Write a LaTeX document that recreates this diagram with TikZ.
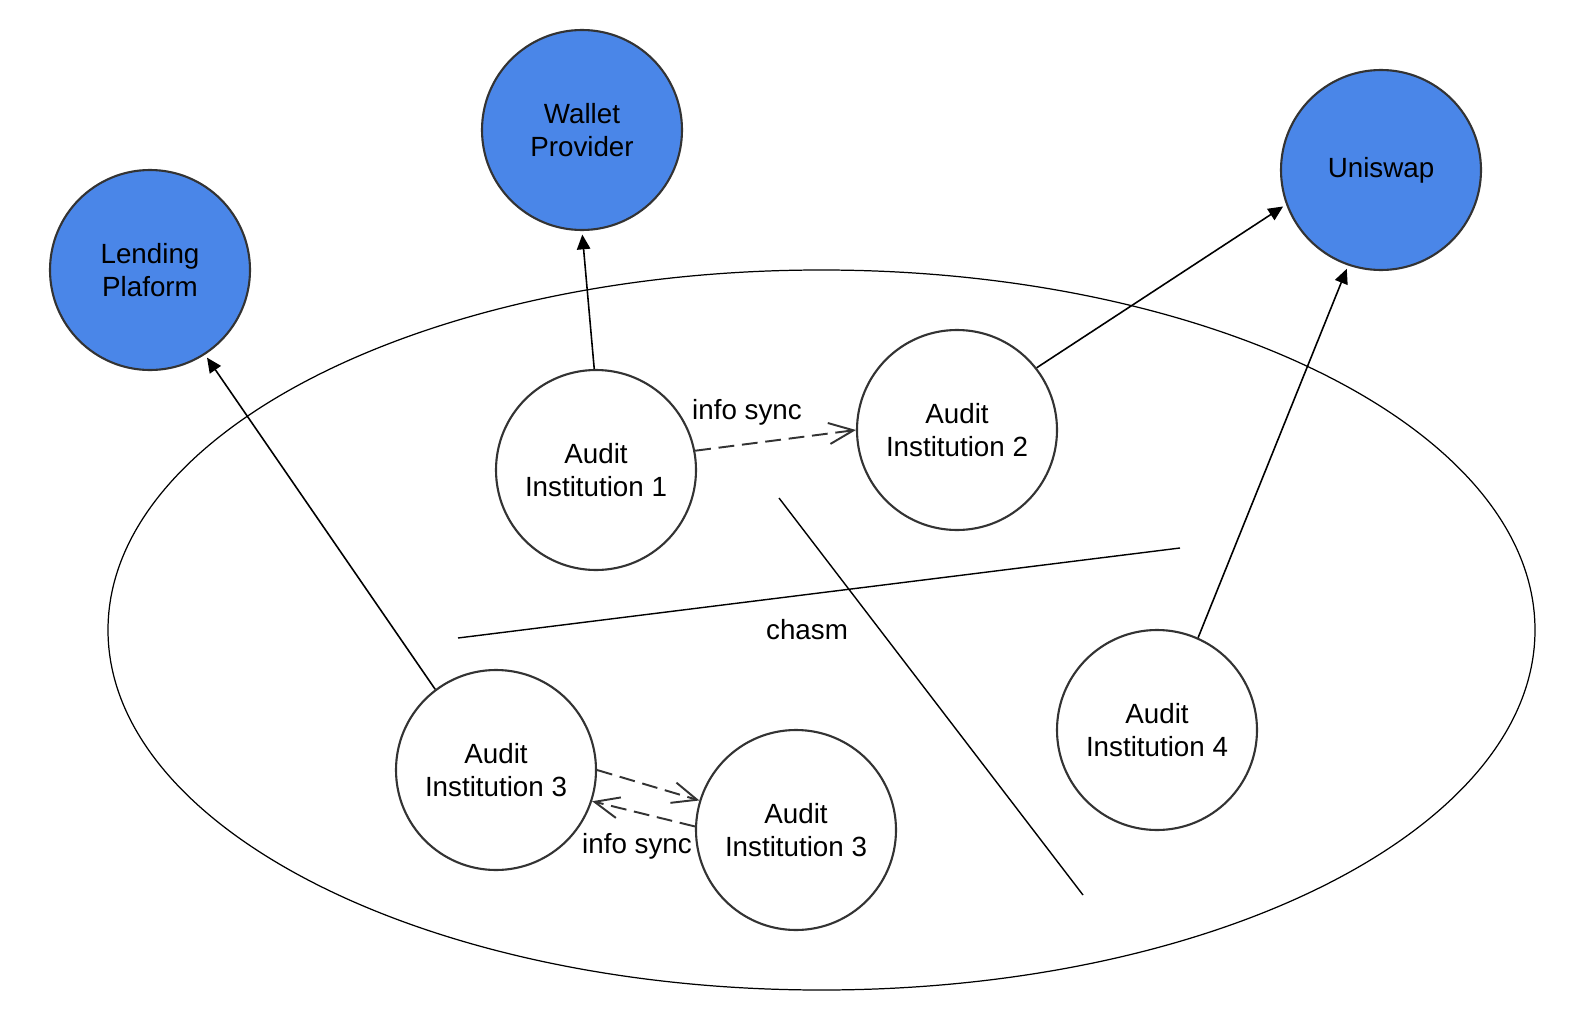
\documentclass[tikz,border=0pt]{standalone}
\usepackage{fontspec}
\setmainfont{Liberation Sans}
\usetikzlibrary{arrows.meta}
\definecolor{platblue}{HTML}{4A86E8}
\definecolor{ringgray}{HTML}{333333}

\begin{document}
\begin{tikzpicture}[font=\fontsize{7.9}{9.2}\selectfont,
   party/.style={draw=ringgray,line width=0.6pt,circle,minimum size=2cm,align=center,inner sep=0pt},
   platform/.style={party,fill=platblue},
   link/.style={line width=0.45pt,-{Triangle[length=4.2pt,width=3.8pt]},shorten >=1pt},
   sync/.style={line width=0.55pt,dash pattern=on 4.5pt off 2.2pt,draw=ringgray,-{Straight Barb[length=7pt,width=6pt]}}]
   \useasboundingbox (0,0) rectangle (15.7,10.18);
   \draw[line width=0.35pt] (8.215,3.88) ellipse (7.135 and 3.6);
   \draw node[platform] (lend) at (1.50,7.48) {Lending\\ Plaform}
     node[platform] (wallet) at (5.82,8.88) {Wallet\\Provider}
     node[platform] (uni) at (13.81,8.48) {Uniswap}
     node[party,fill=white] (a1) at (5.96,5.48) {Audit\\Institution 1}
     node[party,fill=white] (a2) at (9.57,5.88) {Audit\\Institution 2}
     node[party,fill=white] (a3) at (4.96,2.48) {Audit\\Institution 3}
     node[party,fill=white] (a3b) at (7.96,1.88) {Audit\\Institution 3}
     node[party,fill=white] (a4) at (11.57,2.88) {Audit\\Institution 4};
   % the chasm
   \coordinate (chasmW) at (4.58,3.80);
   \coordinate (chasmE) at (11.80,4.70);
   \coordinate (cutN) at (7.79,5.20);
   \coordinate (cutS) at (10.83,1.23);
   \draw[line width=0.4pt] (chasmW) -- (chasmE);
   \draw[line width=0.4pt] (cutN) -- (cutS);
   \node (chasm) at (8.07,3.88) {chasm};
   \draw[link] (a1.91) -- (wallet.270);
   \draw[link] (a2.38) -- (uni.200);
   \draw[link] (a4.66) -- (uni.251);
   \draw[link] (a3.127) -- (lend.303);
   \draw[sync] (a1.11) -- (a2.180);
   \draw[sync] (a3.0) -- (a3b.163);
   \draw[sync] (a3b.178) -- (a3.342);
   \node (sync1) at (7.47,6.06) {info sync};
   \node (sync2) at (6.37,1.72) {info sync};
\end{tikzpicture}
\end{document}
